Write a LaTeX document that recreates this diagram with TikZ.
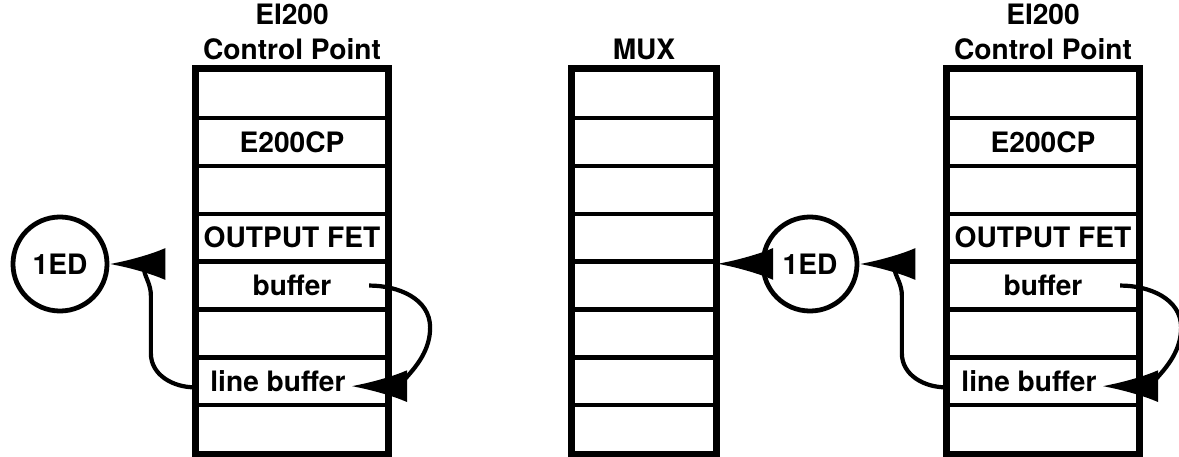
\documentclass[tikz,border=0pt]{standalone}
\usepackage{fontspec}
\setmainfont{TeX Gyre Heros}
\usetikzlibrary{arrows.meta, positioning}
\tikzset{
  cell/.style={
    rectangle,
    draw,
    line width=3pt,
    minimum width=4.75cm,
    minimum height=1.2cm,
    inner sep=0pt,
    font=\fontsize{20}{24}\selectfont\bfseries
  },
  muxcell/.style={cell, minimum width=3.55cm},
  frame/.style={draw, line width=3.8pt},
  heading/.style={
    align=center,
    inner sep=0pt,
    font=\fontsize{20}{25}\selectfont\bfseries
  },
  port/.style={
    circle,
    draw,
    line width=3.4pt,
    minimum size=2.35cm,
    inner sep=0pt,
    font=\fontsize{20}{24}\selectfont\bfseries
  },
  flow/.style={line width=3pt, -{Latex[length=1.4cm, width=0.8cm]}}
}

\begin{document}
\begin{tikzpicture}[x=0.025cm, y=0.025cm]
  \useasboundingbox (0,0) rectangle (1179,456);

  % the three stacks of cells
  \foreach \i/\txt in {1/,2/E200CP,3/,4/OUTPUT FET,5/buffer,6/,7/line buffer\hspace*{0.7cm},8/} {
    \node[cell] (lcp\i) at (292, {386-47.9*(\i-0.5)}) {\txt};
    \node[muxcell] (mux\i) at (644, {386-47.9*(\i-0.5)}) {};
    \node[cell] (rcp\i) at (1043, {386-47.9*(\i-0.5)}) {\txt};
  }
  \draw[frame] (lcp1.north west) rectangle (lcp8.south east);
  \draw[frame] (mux1.north west) rectangle (mux8.south east);
  \draw[frame] (rcp1.north west) rectangle (rcp8.south east);

  \node[heading, above=0.2cm of lcp1] (ltitle) {EI200\\Control Point};
  \node[heading, above=0.2cm of mux1] (muxtitle) {MUX};
  \node[heading, above=0.2cm of rcp1] (rtitle) {EI200\\Control Point};

  \node[port] (edL) at (60,192) {1ED};
  \node[port] (edR) at (810,192) {1ED};

  \coordinate (lbufA) at ([xshift=-0.5cm]lcp5.east);
  \coordinate (lbufB) at ([xshift=-0.95cm, yshift=-0.12cm]lcp7.east);
  \coordinate (rbufA) at ([xshift=-0.5cm]rcp5.east);
  \coordinate (rbufB) at ([xshift=-0.95cm, yshift=-0.12cm]rcp7.east);

  \draw[flow] (edR) -- (mux4.south east);
  \draw[flow] ([yshift=-0.15cm]lcp7.west) to[out=180,in=270] ++(-44,34) -- ++(0,58) to[out=90,in=0] (edL.east);
  \draw[flow] ([yshift=-0.15cm]rcp7.west) to[out=180,in=270] ++(-44,34) -- ++(0,58) to[out=90,in=0] (edR.east);
  \draw[flow] (lbufA) to[out=0,in=90] ++(61,-42) to[out=270,in=0] (lbufB);
  \draw[flow] (rbufA) to[out=0,in=90] ++(61,-42) to[out=270,in=0] (rbufB);
\end{tikzpicture}
\end{document}
